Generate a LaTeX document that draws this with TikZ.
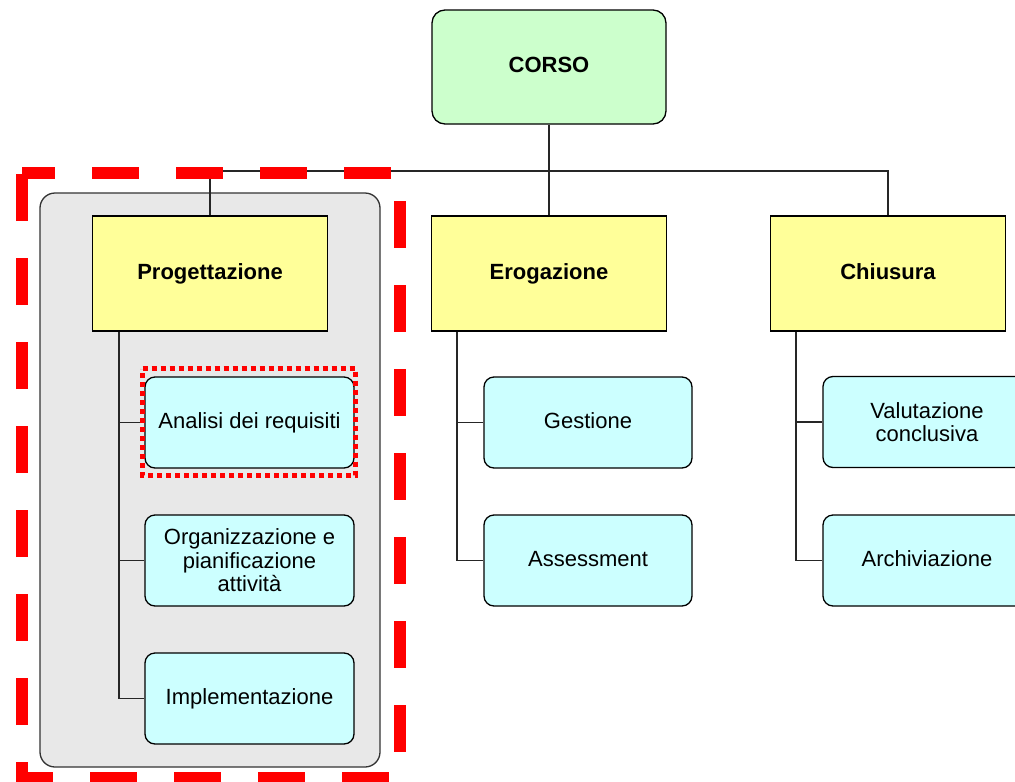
\documentclass[tikz,border=0pt]{standalone}
\usepackage{fontspec}
\setmainfont{Liberation Sans}
\definecolor{corsogreen}{HTML}{CCFFCC}
\definecolor{phaseyellow}{HTML}{FFFF99}
\definecolor{taskcyan}{HTML}{CCFFFF}
\definecolor{groupgrey}{HTML}{E8E8E8}
\definecolor{markred}{HTML}{FF0000}
\tikzset{
  txt/.style={font=\fontsize{22}{23.5}\selectfont},
  oneline/.style={text height=15.8pt, text depth=4.6pt},
  rootbox/.style={txt, oneline, font=\fontsize{22}{23.5}\selectfont\bfseries, draw=black, line width=1.3pt,
    fill=corsogreen, rounded corners=13pt, minimum width=234pt, minimum height=114pt, inner sep=0pt},
  phasebox/.style={txt, oneline, font=\fontsize{22}{23.5}\selectfont\bfseries, draw=black, line width=1.3pt,
    fill=phaseyellow, minimum width=235pt, minimum height=115pt, inner sep=0pt},
  taskbox/.style={txt, draw=black, line width=1.3pt, fill=taskcyan, rounded corners=10pt,
    minimum width=208pt, minimum height=91pt, inner sep=0pt, align=center},
  groupbox/.style={draw=black!80, line width=1.3pt, fill=groupgrey, rounded corners=15pt,
    minimum width=340pt, minimum height=574pt, inner sep=0pt},
  conn/.style={draw=black!85, line width=1.3pt},
  bigdash/.style={draw=markred, line width=11.5pt, dash pattern=on 47pt off 37pt, dash phase=14pt},
  smalldots/.style={draw=markred, line width=5pt, dash pattern=on 5pt off 4pt},
}
\begin{document}
\begin{tikzpicture}[x=1pt,y=-1pt]
\useasboundingbox (0,0) rectangle (1015,782);
\fill[white] (0,0) rectangle (1015,782);
\clip (0,0) rectangle (1015,782);

% group background
\node[groupbox] (grp) at (210,480) {};

% root and phases
\node[rootbox] (corso) at (549,67) {CORSO};
\node[phasebox] (prog) at (210,273.5) {Progettazione};
\node[phasebox] (erog) at (549,273.5) {Erogazione};
\node[phasebox] (chius) at (888,273.5) {Chiusura};

% tasks
\node[taskbox, oneline, minimum width=209pt] (analisi) at (249.5,422.5) {Analisi dei requisiti};
\node[taskbox, minimum width=209pt] (organ) at (249.5,560.5) {Organizzazione e\\pianificazione\\attività};
\node[taskbox, oneline, minimum width=209pt] (impl) at (249.5,698.5) {Implementazione};
\node[taskbox, oneline] (gest) at (588,422.5) {Gestione};
\node[taskbox, oneline] (assess) at (588,560.5) {Assessment};
\node[taskbox] (valut) at (927,422) {Valutazione\\conclusiva};
\node[taskbox, oneline] (archiv) at (927,560.5) {Archiviazione};

% connectors
\coordinate (bus) at (549,171);
\draw[conn] (corso.south) -- (erog.north);
\draw[conn] (prog.north) |- (bus) -| (chius.north);
\coordinate (ptrunk) at ([xshift=27pt]prog.south west);
\coordinate (etrunk) at ([xshift=26pt]erog.south west);
\coordinate (ctrunk) at ([xshift=26pt]chius.south west);
\draw[conn] (ptrunk) |- (analisi.west);
\draw[conn] (ptrunk) |- (organ.west);
\draw[conn] (ptrunk) |- (impl.west);
\draw[conn] (etrunk) |- (gest.west);
\draw[conn] (etrunk) |- (assess.west);
\draw[conn] (ctrunk) |- (valut.west);
\draw[conn] (ctrunk) |- (archiv.west);

% highlight frames
\draw[bigdash] (22,173) -- (400,173) -- (400,778) -- (22,778) -- cycle;
\draw[smalldots] (142.5,368.5) -- (355.5,368.5) -- (355.5,475) -- (142.5,475) -- cycle;
\end{tikzpicture}
\end{document}
